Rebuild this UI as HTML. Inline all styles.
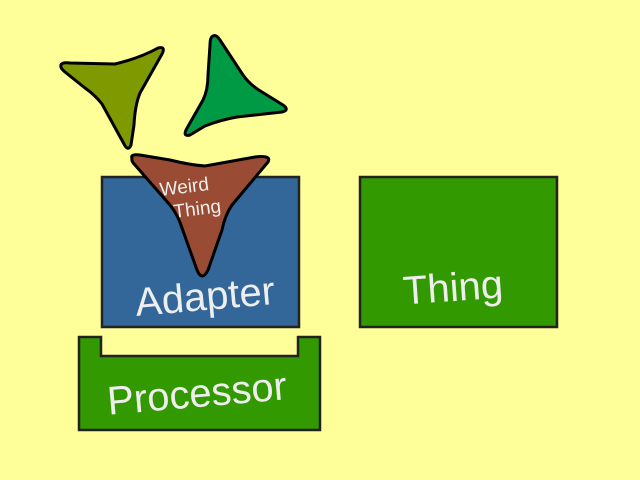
<!DOCTYPE html>
<html><head><style>
html,body{margin:0;padding:0;width:640px;height:480px;overflow:hidden;background:#ffff99;}
svg{display:block;}
</style></head><body>
<svg width="640" height="480" viewBox="0 0 640 480" xmlns="http://www.w3.org/2000/svg" font-family="Liberation Sans, sans-serif">
<rect width="640" height="480" fill="#ffff99"/>
<rect x="102" y="177" width="197" height="150" fill="#336699" stroke="#222" stroke-width="2.5"/>
<rect x="360" y="177" width="197" height="150" fill="#339900" stroke="#222" stroke-width="2.5"/>
<path d="M79 337 H101 V356 H298 V337 H320 V430 H79 Z" fill="#339900" stroke="#222" stroke-width="2.5"/>
<path d="M61 66 Q60 62 70 63 L115 64 Q140 58 158 48 Q166 46 162 54 L140 93 Q135 105 134 125 L131 145 Q128 152 124 144 L102 104 Q95 95 85 88 L65 72 Q60 68 61 66 Z" fill="#7f9900" stroke="#000" stroke-width="3" stroke-linejoin="round"/>
<path d="M213 36 Q216 34 220 40 L243 75 Q250 85 262 92 L283 105 Q290 110 282 112 L237 117 Q220 120 205 126 L190 135 Q183 137 186 130 L203 100 Q208 90 208 75 L210 45 Q210 37 213 36 Z" fill="#009944" stroke="#000" stroke-width="3" stroke-linejoin="round"/>
<path d="M132 158 Q130 154 140 155 L170 160 Q190 165 205 166 L255 157 Q272 155 268 162 L232 205 Q225 215 222 230 L208 270 Q202 282 197 270 L182 228 Q178 215 170 205 L135 165 Q131 161 132 158 Z" fill="#994c33" stroke="#000" stroke-width="3" stroke-linejoin="round"/>
<g fill="#eeeeee" text-anchor="middle">
<text x="185" y="193" font-size="19" transform="rotate(-7 185 193)">Weird</text>
<text x="198" y="215" font-size="19" transform="rotate(-7 198 215)">Thing</text>
<text x="205" y="310" font-size="40" transform="rotate(-5 205 297)">Adapter</text>
<text x="197" y="407" font-size="40" transform="rotate(-5 197 394)">Processor</text>
<text x="453" y="301" font-size="40" transform="rotate(-4 453 288)">Thing</text>
</g>
</svg>
</body></html>
